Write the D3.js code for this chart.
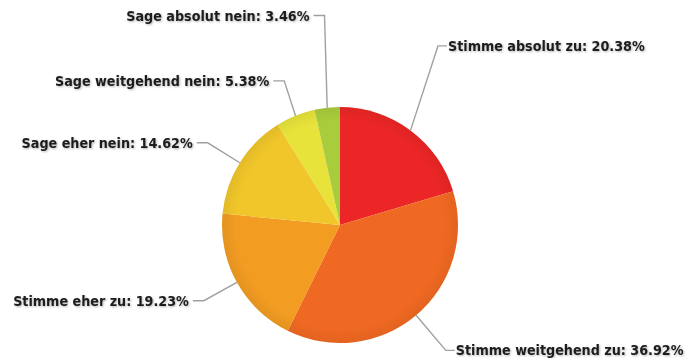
<!DOCTYPE html>
<html>
<head>
<meta charset="utf-8">
<script src="https://cdn.jsdelivr.net/npm/d3@7/dist/d3.min.js"></script>
<style>
  body { margin: 0; background: #fff; }
  .pie-label { font-family: "DejaVu Sans Condensed", "DejaVu Sans", sans-serif; font-weight: bold; font-size: 14.2px; fill: #1c1c1c; }
</style>
</head>
<body>
<svg id="chart" width="691" height="358"></svg>
<script>
// answers, clockwise from 12 o'clock
const categories = ["Stimme absolut zu", "Stimme weitgehend zu", "Stimme eher zu",
                    "Sage eher nein", "Sage weitgehend nein", "Sage absolut nein"];
const percents = [20.38, 36.92, 19.23, 14.62, 5.38, 3.46];
const colors = ["#ec2626", "#f06922", "#f29c22", "#f0c62a", "#e8e33a", "#a9cc3c"];

// leader line layout: how far out the elbow sits (x radius) and a small turn in degrees
const labelReach = [1.73, 1.39, 1.32, 1.32, 1.31, 1.78];
const labelTurn = [-8, 0, 0, 0, 1, 2];

const width = 691, height = 358;
const cx = 340, cy = 225, r = 118;

const data = categories.map((c, i) => ({name: c, value: percents[i], color: colors[i]}));

const svg = d3.select("#chart");
const defs = svg.append("defs");

const shade = defs.append("radialGradient").attr("id", "shade")
  .attr("cx", "50%").attr("cy", "50%").attr("r", "50%");
shade.append("stop").attr("offset", "88%").attr("stop-color", "#000").attr("stop-opacity", 0);
shade.append("stop").attr("offset", "100%").attr("stop-color", "#000").attr("stop-opacity", 0.06);

const blur = defs.append("filter").attr("id", "txtShadow")
  .attr("x", "-5%").attr("y", "-30%").attr("width", "110%").attr("height", "160%");
blur.append("feGaussianBlur").attr("in", "SourceAlpha").attr("stdDeviation", 0.8).attr("result", "b");
blur.append("feOffset").attr("in", "b").attr("dx", 0.5).attr("dy", 0.8).attr("result", "o");
blur.append("feComponentTransfer").attr("in", "o").attr("result", "s")
  .append("feFuncA").attr("type", "linear").attr("slope", 0.3);
const merge = blur.append("feMerge");
merge.append("feMergeNode").attr("in", "s");
merge.append("feMergeNode").attr("in", "SourceGraphic");

const pie = d3.pie().value(d => d.value).sort(null)(data);
const arc = d3.arc().outerRadius(r).innerRadius(0);

const g = svg.append("g").attr("transform", "translate(" + cx + "," + cy + ")");

g.selectAll("path.slice")
  .data(pie)
  .enter().append("path")
  .attr("class", "slice")
  .attr("d", arc)
  .style("fill", d => d.data.color);

g.append("circle").attr("r", r).style("fill", "url(#shade)");

const midAngle = d => (d.startAngle + d.endAngle) / 2;

const labels = pie.map((d, i) => {
  const a = midAngle(d);
  const b = a + labelTurn[i] * Math.PI / 180;
  const edge = [r * Math.sin(a), -r * Math.cos(a)];
  const elbow = [labelReach[i] * r * Math.sin(b), -labelReach[i] * r * Math.cos(b)];
  const side = elbow[0] >= 0 ? 1 : -1;
  const leg = side > 0 ? 9 : 11;
  const gap = side > 0 ? 1 : 4;
  const end = [elbow[0] + side * leg, elbow[1]];
  return {d, edge, elbow, end, side, gap};
});

g.selectAll("polyline.leader")
  .data(labels)
  .enter().append("polyline")
  .attr("class", "leader")
  .attr("points", l => [l.edge, l.elbow, l.end].map(p => p.join(",")).join(" "))
  .style("fill", "none")
  .style("stroke", "#a0a0a0")
  .style("stroke-width", 1.4);

g.selectAll("text.pie-label")
  .data(labels)
  .enter().append("text")
  .attr("class", "pie-label")
  .attr("filter", "url(#txtShadow)")
  .attr("x", l => l.end[0] + l.side * l.gap)
  .attr("y", l => l.end[1])
  .attr("dy", "0.36em")
  .attr("text-anchor", l => l.side > 0 ? "start" : "end")
  .text(l => l.d.data.name + ": " + l.d.data.value.toFixed(2) + "%");
</script>
</body>
</html>
